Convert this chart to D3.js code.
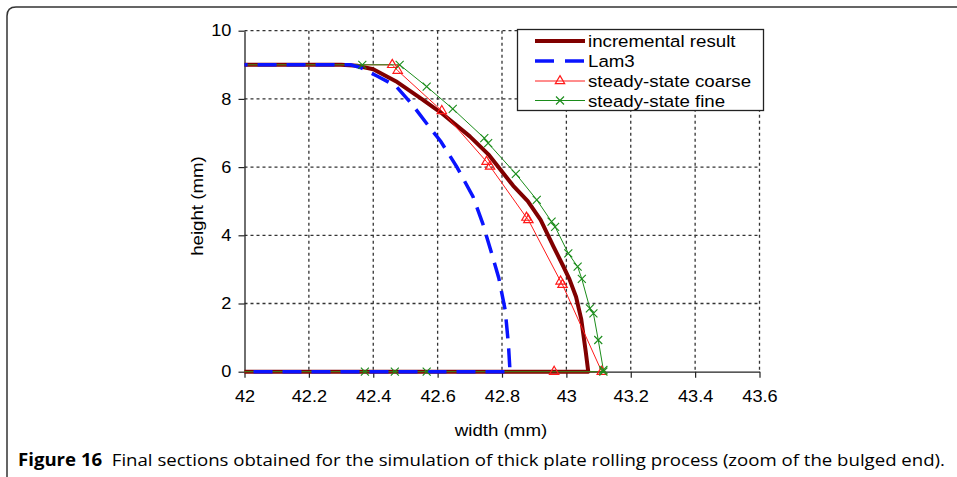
<!DOCTYPE html>
<html><head><meta charset="utf-8">
<script src="https://cdn.jsdelivr.net/npm/d3@7"></script>
<style>
body{margin:0;background:#fff;}
svg{display:block;}
</style></head>
<body>
<svg id="c" width="957" height="477"></svg>
<script>
// ---------- data ----------
const xTicks = [42, 42.2, 42.4, 42.6, 42.8, 43, 43.2, 43.4, 43.6];
const yTicks = [0, 2, 4, 6, 8, 10];
const seriesNames = ["incremental result", "Lam3", "steady-state coarse", "steady-state fine"];

const incremental = [[41.5,9],[42.30,9],[42.35,8.97],[42.40,8.87],[42.47,8.52],[42.55,8.0],[42.61,7.6],[42.70,6.9],
  [42.76,6.35],[42.835,5.45],[42.88,5.0],[42.92,4.45],[42.96,3.67],[42.99,3.1],[43.01,2.7],[43.03,2.2],
  [43.046,1.55],[43.06,0.6],[43.068,0],[41.5,0]];
const lam3 = [[41.5,9],[42.33,9],[42.36,8.92],[42.41,8.68],[42.47,8.38],[42.52,7.85],[42.56,7.35],[42.61,6.75],
  [42.66,6.0],[42.71,5.13],[42.74,4.35],[42.77,3.4],[42.79,2.75],[42.81,1.8],[42.82,0.8],[42.825,0],[41.5,0]];
const coarse = [[41.5,9],[42.459,9.0],[42.476,8.83],[42.613,7.65],[42.752,6.16],[42.763,6.02],[42.876,4.52],
  [42.882,4.45],[42.982,2.65],[42.988,2.55],[43.11,0],[42.962,0],[41.5,0]];
const fine = [[41.5,9],[42.366,9],[42.482,9],[42.566,8.36],[42.647,7.71],[42.745,6.85],[42.757,6.70],[42.843,5.80],
  [42.908,5.04],[42.954,4.40],[42.965,4.25],[43.006,3.47],[43.035,3.08],[43.048,2.72],[43.073,1.86],[43.084,1.71],
  [43.099,0.93],[43.115,0.05],[43.115,0],[42.566,0],[42.467,0],[42.374,0],[41.5,0]];

const caption1 = "Figure 16";
const caption2 = "  Final sections obtained for the simulation of thick plate rolling process (zoom of the bulged end).";

// ---------- layout ----------
const svg = d3.select("#c");
const FONT = "'Liberation Sans', Arial, sans-serif";
const X0 = 244.5, X1 = 759.5, Y0 = 371.7, Y1 = 30.7;
const x = d3.scaleLinear().domain([42, 43.6]).range([X0, X1]);
const y = d3.scaleLinear().domain([0, 10]).range([Y0, Y1]);
const SX = 1.1;

// frame
svg.append("path").attr("d", `M7,490 L7,16 Q7,7 16,7 L970,7`)
  .attr("fill","none").attr("stroke","#333").attr("stroke-width",1.5);

// grid
const grid = svg.append("g").attr("stroke","#333").attr("stroke-width",1.3).attr("stroke-dasharray","3,3");
grid.selectAll("line.h").data(yTicks.filter(d=>d>0)).join("line")
  .attr("x1",X0).attr("x2",X1).attr("y1",d=>y(d)).attr("y2",d=>y(d));
grid.selectAll("line.v").data(xTicks.filter(d=>d>42)).join("line").attr("class","v")
  .attr("y1",Y1).attr("y2",Y0).attr("x1",d=>x(d)).attr("x2",d=>x(d));

// axes
const xAxis = svg.append("g").attr("transform",`translate(0,${Y0})`)
  .call(d3.axisBottom(x).tickValues(xTicks).tickFormat(d3.format("")).tickSize(6).tickSizeOuter(0));
const yAxis = svg.append("g").attr("transform",`translate(${X0},0)`)
  .call(d3.axisLeft(y).tickValues(yTicks).tickFormat(d3.format("")).tickSize(6).tickSizeOuter(0));
[xAxis,yAxis].forEach(a=>{
  a.attr("font-family",null).attr("font-size",null);
  a.select(".domain").attr("stroke","#222").attr("stroke-width",1.3);
  a.selectAll(".tick line").attr("stroke","#222").attr("stroke-width",1.2);
  a.selectAll(".tick text").style("font-size","16.5px").style("font-family",FONT).attr("fill","#000");
});
xAxis.selectAll(".tick text").attr("y",19).attr("transform",`scale(${SX},1)`);
yAxis.selectAll(".tick text").attr("x",-12).attr("transform",`scale(${SX},1)`);

// axis titles
svg.append("text").attr("transform",`translate(501,436) scale(${SX},1)`).attr("text-anchor","middle")
  .style("font-size","17px").style("font-family",FONT).text("width (mm)");
svg.append("text").attr("transform",`translate(203,206) rotate(-90) scale(${SX},1)`).attr("text-anchor","middle")
  .style("font-size","17px").style("font-family",FONT).text("height (mm)");

// clip
svg.append("defs").append("clipPath").attr("id","clp").append("rect")
  .attr("x",X0).attr("y",Y1-6).attr("width",X1-X0+6).attr("height",Y0-Y1+12);
const plot = svg.append("g").attr("clip-path","url(#clp)");
const line = d3.line().x(d=>x(d[0])).y(d=>y(d[1]));

plot.append("path").datum(incremental).attr("d",line).attr("fill","none")
  .attr("stroke","#800000").attr("stroke-width",4).attr("stroke-linejoin","round");
plot.append("path").datum(coarse).attr("d",line).attr("fill","none")
  .attr("stroke","#ff1a1a").attr("stroke-width",1);
plot.append("path").datum(fine).attr("d",line).attr("fill","none")
  .attr("stroke","#1a8c1a").attr("stroke-width",1);
plot.append("path").datum(lam3).attr("d",line).attr("fill","none")
  .attr("stroke","#0a14ff").attr("stroke-width",3.5).attr("stroke-dasharray","19,10");

const tri = d3.symbol().type(d3.symbolTriangle).size(38);
function drawTri(g, px, py){
  g.append("path").attr("d",tri()).attr("transform",`translate(${px},${py})`)
    .attr("fill","none").attr("stroke","#ff1a1a").attr("stroke-width",1.2);
}
function drawX(g, px, py){
  const s=4;
  g.append("path").attr("d",`M${px-s},${py-s}L${px+s},${py+s}M${px-s},${py+s}L${px+s},${py-s}`)
    .attr("stroke","#1a8c1a").attr("stroke-width",1.1).attr("fill","none");
}
coarse.filter(d=>d[0]>=42).forEach(d=>drawTri(plot, x(d[0]), y(d[1])));
fine.filter(d=>d[0]>=42).forEach(d=>drawX(plot, x(d[0]), y(d[1])));

// legend
const lg = svg.append("g");
lg.append("rect").attr("x",517.5).attr("y",29.5).attr("width",246).attr("height",81)
  .attr("fill","#fff").attr("stroke","#222").attr("stroke-width",1.3);
const rowsY = [41, 61, 81, 100.5];
const lx0 = 535, lx1 = 585;
lg.append("line").attr("x1",lx0).attr("x2",lx1).attr("y1",rowsY[0]).attr("y2",rowsY[0]).attr("stroke","#800000").attr("stroke-width",4);
lg.append("line").attr("x1",lx0).attr("x2",lx1).attr("y1",rowsY[1]).attr("y2",rowsY[1]).attr("stroke","#0a14ff").attr("stroke-width",3.5).attr("stroke-dasharray","19,11");
lg.append("line").attr("x1",lx0).attr("x2",lx1).attr("y1",rowsY[2]).attr("y2",rowsY[2]).attr("stroke","#ff1a1a").attr("stroke-width",1);
drawTri(lg, (lx0+lx1)/2, rowsY[2]);
lg.append("line").attr("x1",lx0).attr("x2",lx1).attr("y1",rowsY[3]).attr("y2",rowsY[3]).attr("stroke","#1a8c1a").attr("stroke-width",1);
drawX(lg, (lx0+lx1)/2, rowsY[3]);
seriesNames.forEach((n,i)=>{
  lg.append("text").attr("transform",`translate(588,${rowsY[i]+6}) scale(${SX},1)`)
    .style("font-size","17px").style("font-family",FONT).text(n);
});

// caption
const cap = svg.append("text").attr("x",18).attr("y",466)
  .style("font-size","17px").style("font-family","'Open Sans', sans-serif");
cap.append("tspan").style("font-weight","bold").text(caption1);
cap.append("tspan").style("white-space","pre").text(caption2);
cap.attr("textLength",927).attr("lengthAdjust","spacingAndGlyphs");
</script>
</body></html>
